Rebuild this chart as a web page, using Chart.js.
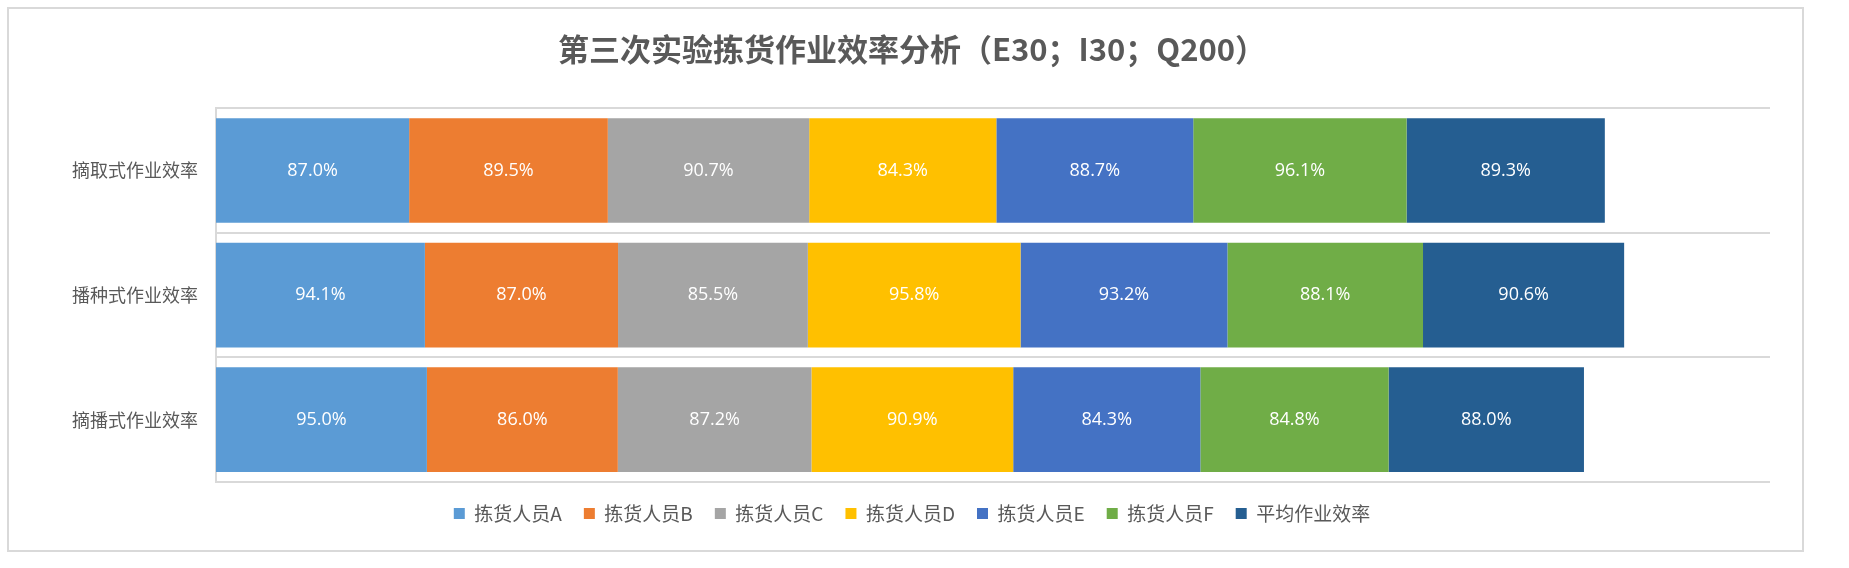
<!DOCTYPE html>
<html><head><meta charset="utf-8">
<script src="https://cdn.jsdelivr.net/npm/chart.js@4"></script>
<style>
body{margin:0;background:#fff;}
#box{position:absolute;left:7px;top:7px;width:1797px;height:545px;border:2px solid #d9d9d9;box-sizing:border-box;}
canvas{position:absolute;left:0;top:0;}
</style></head><body>
<div id="box"><canvas id="c" width="1793" height="541"></canvas></div>
<script>
const categories = ['摘取式作业效率','播种式作业效率','摘播式作业效率'];
const seriesNames = ['拣货人员A','拣货人员B','拣货人员C','拣货人员D','拣货人员E','拣货人员F','平均作业效率'];
const pickerA = [87.0, 94.1, 95.0];
const pickerB = [89.5, 87.0, 86.0];
const pickerC = [90.7, 85.5, 87.2];
const pickerD = [84.3, 95.8, 90.9];
const pickerE = [88.7, 93.2, 84.3];
const pickerF = [96.1, 88.1, 84.8];
const average = [89.3, 90.6, 88.0];
const colors = ['#5b9bd5','#ed7d31','#a5a5a5','#ffc000','#4472c4','#70ad47','#255e91'];
const values = [pickerA,pickerB,pickerC,pickerD,pickerE,pickerF,average];
const labelPlugin = {
  id:'lbl',
  afterInit(chart){
    const lg=chart.legend, orig=lg.fit;
    lg.fit=function(){orig.call(this); this.height+=17;};
  },
  afterDatasetsDraw(chart){
    const ctx=chart.ctx;
    ctx.save();ctx.font='18px "Open Sans","Noto Sans",sans-serif';ctx.fillStyle='#fff';
    ctx.textAlign='center';ctx.textBaseline='middle';
    chart.data.datasets.forEach((ds,i)=>{
      chart.getDatasetMeta(i).data.forEach((el,j)=>{
        ctx.fillText(ds.data[j].toFixed(1)+'%', (el.x+el.base)/2, el.y);
      });
    });
    ctx.restore();
  }
};
new Chart(document.getElementById('c'),{
  type:'bar',
  data:{labels:categories,datasets:seriesNames.map((n,i)=>({label:n,data:values[i],backgroundColor:colors[i],borderWidth:0,barPercentage:0.84,categoryPercentage:1}))},
  options:{
    indexAxis:'y',responsive:false,animation:false,
    layout:{padding:{left:45,right:32,top:0,bottom:0}},
    scales:{
      x:{stacked:true,min:0,max:700,display:false},
      y:{stacked:true,grid:{offset:true,color:'#d9d9d9',lineWidth:2,drawTicks:false},border:{color:'#d9d9d9',width:2},
         ticks:{color:'#595959',padding:18,font:{size:18,family:'"Noto Sans CJK SC",sans-serif'}}}
    },
    plugins:{
      title:{display:true,text:'第三次实验拣货作业效率分析（E30；I30；Q200）',color:'#595959',
        font:{size:31,weight:'bold',family:'"Noto Sans CJK SC",sans-serif'},padding:{top:22,bottom:40}},
      legend:{position:'bottom',labels:{color:'#595959',boxWidth:11,boxHeight:11,padding:22,
        font:{size:19,family:'"Noto Sans CJK SC",sans-serif'}}},
      tooltip:{enabled:false}
    }
  },
  plugins:[labelPlugin]
});
</script></body></html>
